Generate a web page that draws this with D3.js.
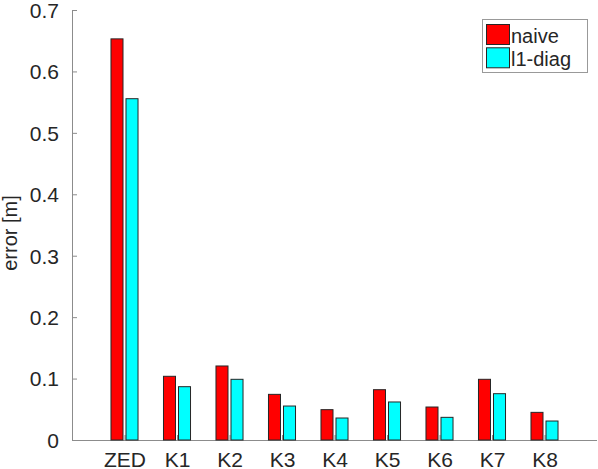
<!DOCTYPE html>
<meta charset="utf-8">
<style>
  body { margin: 0; background: #fff; }
  svg text { font-family: "Liberation Sans", Arial, sans-serif; fill: #262626; }
  .axis path, .axis line { stroke: #8c8c8c; }
</style>
<svg width="598" height="469"></svg>
<script src="https://d3js.org/d3.v7.min.js"></script>
<script>
// Data
var categories = ["ZED", "K1", "K2", "K3", "K4", "K5", "K6", "K7", "K8"];
var naive  = [0.653, 0.1037, 0.1205, 0.0743, 0.0494, 0.0819, 0.0537, 0.0988, 0.045];
var l1diag = [0.5556, 0.0868, 0.0988, 0.0553, 0.0358, 0.0619, 0.0369, 0.0754, 0.0309];
var seriesNames = ["naive", "l1-diag"];
var seriesColors = ["#ff0000", "#00ffff"];
var yTicks = [0, 0.1, 0.2, 0.3, 0.4, 0.5, 0.6, 0.7];

var svg = d3.select("svg");

// x runs from 0 to 10 like the matlab axis, groups sit at 1..9
var x = d3.scaleLinear().domain([0, 10]).range([72, 597]);
var y = d3.scaleLinear().domain([0, 0.7]).range([440, 10]);

var barW = 0.229, offset = 0.143;
var series = [naive, l1diag];

// y axis
var yAxis = svg.append("g")
    .attr("class", "axis")
    .attr("transform", "translate(72,0)")
    .call(d3.axisLeft(y).tickValues(yTicks).tickSize(-5).tickPadding(13)
      .tickFormat(function(d) { return d === 0 ? "0" : d3.format(".1f")(d); }));
yAxis.selectAll("text").style("font-size", "21px").attr("dy", "0.35em");
yAxis.select(".domain").attr("d", "M0.5,440.5V10");

// x axis
var xAxis = svg.append("g")
    .attr("class", "axis")
    .attr("transform", "translate(0,440)")
    .call(d3.axisBottom(x).tickValues(d3.range(1, 10)).tickSize(-5).tickPadding(12)
      .tickFormat(function(d) { return categories[d - 1]; }));
xAxis.selectAll("text").style("font-size", "21px").attr("dy", "0.7em");
xAxis.select(".domain").attr("d", "M72,0.5H597");

// bars
series.forEach(function(vals, s) {
  svg.append("g").selectAll("rect")
    .data(vals)
    .enter().append("rect")
    .attr("x", function(d, i) { return x(i + 1 + (s === 0 ? -offset : offset) - barW / 2); })
    .attr("width", x(barW) - x(0))
    .attr("y", function(d) { return y(d); })
    .attr("height", function(d) { return y(0) - y(d); })
    .attr("fill", seriesColors[s])
    .attr("stroke", "#262626")
    .attr("stroke-width", 1);
});

// y label
svg.append("text")
    .attr("transform", "translate(17,233) rotate(-90)")
    .attr("text-anchor", "middle")
    .style("font-size", "20px")
    .text("error [m]");

// legend
var lg = svg.append("g");
lg.append("rect")
    .attr("x", 482.5).attr("y", 19.5).attr("width", 105).attr("height", 53)
    .attr("fill", "#fff").attr("stroke", "#999");
seriesNames.forEach(function(name, i) {
  lg.append("rect")
    .attr("x", 486.5).attr("y", 24.5 + i * 23.3).attr("width", 23).attr("height", 20)
    .attr("fill", seriesColors[i]).attr("stroke", "#262626");
  lg.append("text")
    .attr("x", 511).attr("y", 42.7 + i * 23)
    .style("font-size", "20px")
    .text(name);
});
</script>
